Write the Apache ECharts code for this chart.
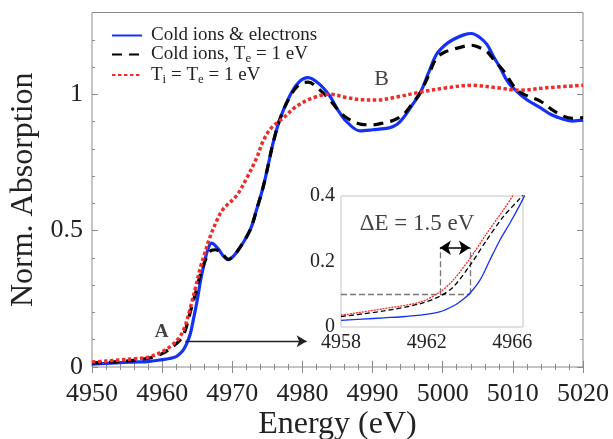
<!DOCTYPE html>
<html>
<head>
<meta charset="utf-8">
<script src="https://cdn.jsdelivr.net/npm/echarts@6/dist/echarts.min.js"></script>
<style>html,body{margin:0;padding:0;background:#fff}#c{width:613px;height:439px}</style>
</head>
<body>
<div id="c"></div>
<script>
// ---- main panel data ----
const blueE = [4950,4952,4954,4956,4958,4960,4961,4962,4962.5,4963,4963.5,4964,4964.5,4965,4965.5,4966,4966.5,4967.06,4968,4968.7,4969.4,4970.6,4972.5,4973.5,4974.4,4975.2,4975.8,4976.8,4978.2,4979.5,4980.8,4982.3,4983.9,4985,4986.3,4988.2,4990,4992.5,4993.5,4994.4,4995.5,4996.8,4998,4999.1,5000.3,5001.5,5003,5004.1,5005.2,5006.3,5007.2,5008.2,5009.3,5010.5,5012,5013.9,5015.5,5017.2,5018.5,5020];
const blueV = [0.010,0.013,0.016,0.018,0.020,0.027,0.031,0.038,0.048,0.062,0.086,0.120,0.180,0.245,0.320,0.380,0.430,0.454,0.433,0.408,0.394,0.420,0.500,0.580,0.660,0.750,0.820,0.910,0.995,1.045,1.061,1.040,0.994,0.945,0.900,0.866,0.870,0.878,0.890,0.914,0.955,1.006,1.080,1.146,1.180,1.201,1.218,1.223,1.210,1.183,1.140,1.097,1.045,1.012,0.980,0.951,0.925,0.909,0.902,0.905];
const blackE = [4950,4954,4958,4960,4961,4962,4962.6,4963.3,4964,4964.8,4965.4,4966.3,4967,4967.6,4968.4,4969.4,4970.6,4972.5,4973.5,4974.4,4975.2,4975.8,4976.8,4978.2,4979.5,4980.8,4982.3,4983.9,4985,4986.3,4988.4,4990,4991.7,4993,4994.4,4995.5,4996.8,4998,4999.1,5000.3,5001.5,5003,5004.1,5005.2,5006.3,5007.5,5008.7,5010.5,5012,5013.9,5015.5,5017.2,5018.5,5020];
const blackV = [0.015,0.020,0.032,0.049,0.065,0.085,0.100,0.135,0.200,0.275,0.335,0.400,0.428,0.430,0.420,0.395,0.420,0.500,0.580,0.660,0.750,0.820,0.910,0.990,1.035,1.045,1.020,0.980,0.945,0.914,0.890,0.888,0.896,0.905,0.926,0.960,1.006,1.070,1.133,1.155,1.165,1.176,1.180,1.172,1.157,1.120,1.085,1.018,0.995,0.975,0.945,0.920,0.912,0.915];
const redE = [4950,4952,4954,4956,4958,4960,4961.5,4962.5,4963.2,4964,4964.8,4965.4,4966,4966.8,4967.8,4968.7,4970.6,4972.1,4973.5,4974.4,4975.6,4977.3,4979.2,4981.6,4983.9,4986.3,4988.5,4990.6,4993.4,4996.8,5000.6,5004.1,5007.7,5011,5014.8,5020];
const redV = [0.018,0.022,0.026,0.030,0.036,0.056,0.082,0.110,0.145,0.215,0.295,0.360,0.410,0.475,0.537,0.579,0.628,0.695,0.768,0.829,0.878,0.914,0.957,0.988,1.000,0.988,0.980,0.979,0.990,1.008,1.024,1.033,1.024,1.015,1.024,1.033];

// ---- inset data ----
const inBlueE = [4958,4959,4960,4961,4961.7,4962.6,4963.24,4963.71,4964.02,4964.49,4964.95,4965.42,4965.88,4966.35,4966.6];
const inBlueV = [0.020,0.024,0.028,0.032,0.036,0.046,0.064,0.085,0.103,0.143,0.204,0.265,0.316,0.372,0.405];
const inBlackE = [4958,4960,4961.69,4962.62,4963.24,4964.02,4964.8,4965.57,4966.35,4966.6];
const inBlackV = [0.032,0.049,0.071,0.094,0.122,0.188,0.265,0.336,0.392,0.410];
const inRedE = [4958,4960,4961.69,4962.62,4963.24,4964.02,4964.8,4965.57,4966.04,4966.3];
const inRedV = [0.036,0.056,0.076,0.107,0.143,0.209,0.285,0.356,0.402,0.425];

// ---- labels / annotations ----
const seriesNames = ['Cold ions & electrons', 'Cold ions, Te = 1 eV', 'Ti = Te = 1 eV'];
const mainXTicks = {min: 4950, max: 5020, interval: 10};
const mainYTicks = {min: 0, max: 1.3, interval: 0.5};
const insetXTicks = {min: 4958, max: 4966.5, interval: 4};
const insetYTicks = {min: 0, max: 0.4, interval: 0.2};
const arrowA = [[4963.3, 0.094], [4980.6, 0.094]];
const labelA = [4959.94, 0.128];
const labelB = [4991.3, 1.055];
const dEThreshold = 0.1;
const dELow = 4962.62, dEHigh = 4964.02, dETop = 0.242, dEArrowY = 0.242;
const dEText = [4961.55, 0.316];

const pair = (xs, ys) => xs.map((x, i) => [x, ys[i]]);
const FONT = 'Liberation Serif';
const BLUE = '#1432f5', RED = '#ef2b2b', BLACK = '#000';

const chart = echarts.init(document.getElementById('c'), null, {renderer: 'canvas'});

const axisGray = '#8a8a8a';
function mainX(pos, labels) {
  return {
    type: 'value', gridIndex: 0, position: pos, min: mainXTicks.min, max: mainXTicks.max, interval: mainXTicks.interval,
    axisLine: {show: false}, splitLine: {show: false},
    axisTick: {show: true, inside: true, length: 6, lineStyle: {color: axisGray}},
    minorTick: {show: true, splitNumber: 5, length: 3, lineStyle: {color: axisGray}},
    axisLabel: {show: labels, fontFamily: FONT, fontSize: 26, color: '#222', margin: 14, formatter: v => String(v)},
    name: labels ? 'Energy (eV)' : '', nameLocation: 'middle', nameGap: 42, nameMoveOverlap: false,
    nameTextStyle: {fontFamily: FONT, fontSize: 32, color: '#222'}
  };
}
function mainY(pos, labels) {
  return {
    type: 'value', gridIndex: 0, position: pos, min: mainYTicks.min, max: mainYTicks.max, interval: mainYTicks.interval,
    axisLine: {show: false}, splitLine: {show: false},
    axisTick: {show: true, inside: true, length: 6, lineStyle: {color: axisGray}},
    minorTick: {show: true, splitNumber: 5, length: 3, lineStyle: {color: axisGray}},
    axisLabel: {show: labels, fontFamily: FONT, fontSize: 26, color: '#222', margin: 9,
      formatter: v => (v > 1.01 ? '' : String(v))},
    name: labels ? 'Norm. Absorption' : '', nameLocation: 'middle', nameGap: 52, nameRotate: 90, nameMoveOverlap: false,
    nameTextStyle: {fontFamily: FONT, fontSize: 32, color: '#222'}
  };
}

const legendRich = {
  t: {fontFamily: FONT, fontSize: 19, color: '#222', lineHeight: 22, verticalAlign: 'middle'},
  s: {fontFamily: FONT, fontSize: 13, color: '#222', lineHeight: 11, verticalAlign: 'bottom'}
};
function legendFmt(name) {
  if (name === seriesNames[0]) return '{t|' + name + '}';
  if (name === seriesNames[1]) return '{t|Cold ions, T}{s|e}{t| = 1 eV}';
  return '{t|T}{s|i}{t| = T}{s|e}{t| = 1 eV}';
}

const option = {
  animation: false,
  backgroundColor: '#fff',
  grid: [
    {left: 92, top: 12.5, right: 30, bottom: 72, outerBoundsMode: 'none', containLabel: false,
      show: true, borderColor: axisGray, borderWidth: 1, backgroundColor: 'transparent'},
    {left: 341, top: 196, width: 182, height: 131, outerBoundsMode: 'none', containLabel: false,
      show: true, borderColor: '#c4c4c4', borderWidth: 1, backgroundColor: '#fff'}
  ],
  legend: {
    orient: 'vertical', left: 106, top: 21, itemWidth: 30, itemHeight: 14, itemGap: 0,
    data: seriesNames, formatter: legendFmt,
    itemStyle: {opacity: 0},
    textStyle: {rich: legendRich, padding: [0, 0, 0, 4]},
    selectedMode: false
  },
  xAxis: [
    mainX('bottom', true),
    mainX('top', false),
    {
      type: 'value', gridIndex: 1, min: insetXTicks.min, max: insetXTicks.max, interval: insetXTicks.interval,
      axisLine: {show: false}, splitLine: {show: false}, axisTick: {show: false},
      axisLabel: {fontFamily: FONT, fontSize: 20, color: '#222', margin: 6,
        formatter: v => (v > 4966.1 ? '' : String(v))}
    }
  ],
  yAxis: [
    mainY('left', true),
    mainY('right', false),
    {
      type: 'value', gridIndex: 1, min: insetYTicks.min, max: insetYTicks.max, interval: insetYTicks.interval,
      axisLine: {show: false}, splitLine: {show: false}, axisTick: {show: false},
      axisLabel: {fontFamily: FONT, fontSize: 20, color: '#222', margin: 6}
    }
  ],
  series: [
    {name: seriesNames[0], type: 'line', xAxisIndex: 0, yAxisIndex: 0, data: pair(blueE, blueV), smooth: 0.35,
      showSymbol: false, symbol: 'none', lineStyle: {color: BLUE, width: 3.2}, itemStyle: {color: BLUE}, z: 3},
    {name: seriesNames[1], type: 'line', xAxisIndex: 0, yAxisIndex: 0, data: pair(blackE, blackV), smooth: 0.35,
      showSymbol: false, symbol: 'none', lineStyle: {color: BLACK, width: 3.2, type: [10, 7]}, itemStyle: {color: BLACK}, z: 4},
    {name: seriesNames[2], type: 'line', xAxisIndex: 0, yAxisIndex: 0, data: pair(redE, redV), smooth: 0.35,
      showSymbol: false, symbol: 'none', lineStyle: {color: RED, width: 3.5, type: [3.5, 2.5]}, itemStyle: {color: RED}, z: 5,
      markLine: {
        silent: true, symbol: ['none', 'arrow'], symbolSize: [9, 10],
        lineStyle: {color: '#222', width: 1.3, type: 'solid'}, label: {show: false},
        data: [[{coord: arrowA[0]}, {coord: arrowA[1]}]]
      }
    },
    // inset
    {type: 'line', xAxisIndex: 2, yAxisIndex: 2, data: pair(inBlueE, inBlueV), smooth: 0.3, symbol: 'none',
      lineStyle: {color: BLUE, width: 1.3}, z: 10},
    {type: 'line', xAxisIndex: 2, yAxisIndex: 2, data: pair(inBlackE, inBlackV), smooth: 0.3, symbol: 'none',
      lineStyle: {color: BLACK, width: 1.3, type: [5, 3]}, z: 11},
    {type: 'line', xAxisIndex: 2, yAxisIndex: 2, data: pair(inRedE, inRedV), smooth: 0.3, symbol: 'none',
      lineStyle: {color: RED, width: 1.3, type: [2, 1]}, z: 12,
      markLine: {
        silent: true, symbol: ['none', 'none'], label: {show: false},
        lineStyle: {color: '#777', width: 1.3, type: [6, 3]},
        data: [
          [{coord: [insetXTicks.min, dEThreshold]}, {coord: [dEHigh, dEThreshold]}],
          [{coord: [dELow, dEThreshold]}, {coord: [dELow, dETop]}],
          [{coord: [dEHigh, dEThreshold]}, {coord: [dEHigh, dETop]}]
        ]
      }
    },
    {type: 'line', xAxisIndex: 2, yAxisIndex: 2, data: [], symbol: 'none', z: 13,
      markLine: {
        silent: true, symbol: ['arrow', 'arrow'], symbolSize: [11, 11], label: {show: false},
        lineStyle: {color: '#000', width: 1.5, type: 'solid'},
        data: [[{coord: [dELow, dEArrowY]}, {coord: [dEHigh, dEArrowY]}]]
      }
    },
    // text annotations
    {type: 'scatter', xAxisIndex: 0, yAxisIndex: 0, symbolSize: 0, z: 20, silent: true,
      data: [
        {value: labelA, label: {show: true, formatter: 'A', position: 'inside', fontFamily: FONT, fontWeight: 'bold', fontSize: 19, color: '#111'}},
        {value: labelB, label: {show: true, formatter: 'B', position: 'inside', fontFamily: FONT, fontSize: 22, color: '#111'}}
      ]},
    {type: 'scatter', xAxisIndex: 2, yAxisIndex: 2, symbolSize: 0, z: 20, silent: true,
      data: [
        {value: dEText, label: {show: true, formatter: 'ΔE = 1.5 eV', position: 'inside', fontFamily: FONT, fontSize: 23, color: '#111'}}
      ]}
  ]
};
chart.setOption(option);
</script>
</body>
</html>
